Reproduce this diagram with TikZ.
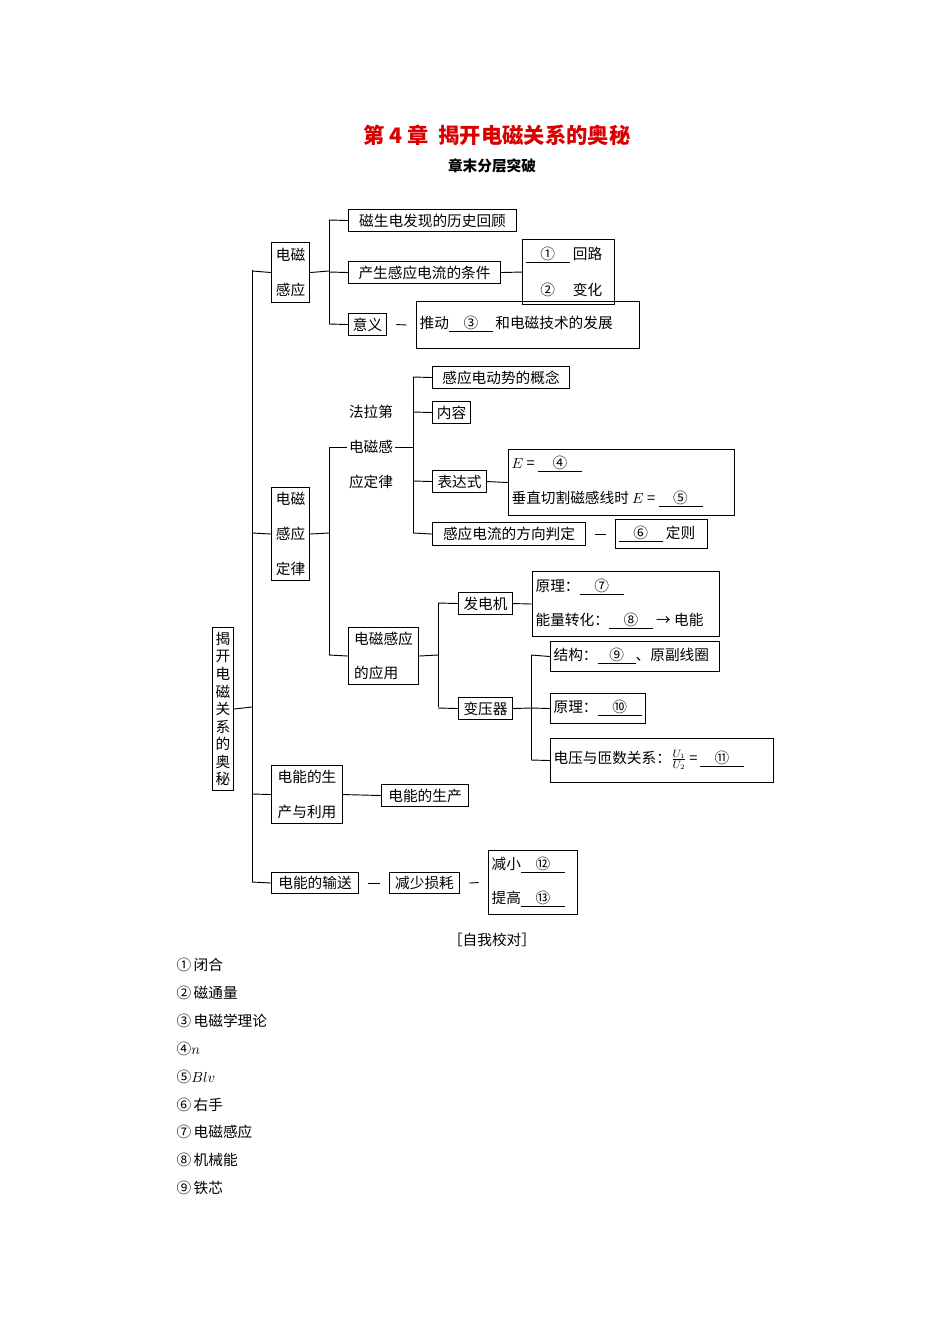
\documentclass[tikz,border=0pt]{standalone}
\usepackage{fontspec}
\setmainfont{Noto Sans CJK SC}
\begin{document}
\begin{tikzpicture}[x=0.75pt,y=-0.75pt,
  box/.style={draw,line width=0.8pt,inner sep=0pt,anchor=north west},
  txt/.style={inner sep=1pt,font=\fontsize{11}{13}\selectfont},
  lt/.style={txt,anchor=west},
  ln/.style={line width=0.7pt}]
\useasboundingbox[fill=white] (0,0) rectangle (950,1344);
\newcommand{\bx}[5]{\node[box,minimum width={(#4-#2)*0.75pt},minimum height={(#5-#3)*0.75pt}] (#1) at (#2,#3) {};}
\newcommand{\bl}[1]{\underline{\makebox[3em]{#1}}}
% titles
\node[font=\fontsize{16}{18}\selectfont\bfseries,text=red!85!black] (t1) at (497,135) {第 4 章\ \ 揭开电磁关系的奥秘};
\node[font=\fontsize{11}{13}\selectfont\bfseries] (t2) at (492,166) {章末分层突破};
% root
\bx{root}{212}{627}{233}{790}
\node[inner sep=0pt,align=center,font=\fontsize{11}{13.2}\selectfont] at (root.center) {揭\\开\\电\\磁\\关\\系\\的\\奥\\秘};
\coordinate (sp) at (252,707);
\draw[ln] (root.east) -- (sp);
\draw[ln] (252,270) -- (252,882);
% section 1
\bx{a}{271}{242}{309}{302}
\node[txt,align=center,font=\fontsize{11}{26}\selectfont] at (a.center) {电磁\\感应};
\draw[ln] (252,271) -- (a.west);
\draw[ln] (a.east) -- (329,271);
\draw[ln] (329,220) -- (329,324);
\bx{a1}{348}{209}{516}{231}\node[txt] at (a1.center) {磁生电发现的历史回顾};
\bx{a2}{348}{261}{500}{283}\node[txt] at (a2.center) {产生感应电流的条件};
\bx{a3}{348}{313}{386}{335}\node[txt] at (a3.center) {意义};
\draw[ln] (329,220) -- (a1.west); \draw[ln] (329,272) -- (a2.west); \draw[ln] (329,324) -- (a3.west);
\bx{a2b}{522}{239}{614}{304}
\node[lt] at (524,255) {\bl{①}\ 回路};
\node[lt] at (524,290) {\makebox[3em]{②}\ 变化};
\draw[ln] (a2.east) -- (a2b.west);
\bx{a3b}{416}{301}{639}{348}
\node[lt] at (418,324) {推动\bl{③}\,和电磁技术的发展};
\draw[ln] ([xshift=7]a3.east) -- ([xshift=-7]a3b.west);
% section 2
\bx{b}{271}{487}{309}{580}
\node[txt,align=center,font=\fontsize{11}{26}\selectfont] at (b.center) {电磁\\感应\\定律};
\draw[ln] (252,533) -- (b.west);
\draw[ln] (b.east) -- (329,533);
\draw[ln] (329,447) -- (329,655);
\node[txt] (fl) at (371,412) {法拉第};
\node[txt] (fm) at (371,447) {电磁感};
\node[txt] (fr) at (371,482) {应定律};
\draw[ln] (329,447) -- (fm.west);
\draw[ln] (fm.east) -- (413,447);
\draw[ln] (413,377) -- (413,533);
\bx{c1}{432}{366}{569}{388}\node[txt] at (c1.center) {感应电动势的概念};
\bx{c2}{432}{401}{470}{423}\node[txt] at (c2.center) {内容};
\bx{c3}{432}{470}{486}{492}\node[txt] at (c3.center) {表达式};
\bx{c4}{432}{522}{585}{545}\node[txt] at (c4.center) {感应电流的方向判定};
\draw[ln] (413,377) -- (c1.west); \draw[ln] (413,412) -- (c2.west);
\draw[ln] (413,481) -- (c3.west); \draw[ln] (413,533) -- (c4.west);
\bx{c3b}{508}{449}{734}{515}
\node[lt] at (510,464) {$E$ = \bl{④}};
\node[lt] at (510,499) {垂直切割磁感线时 $E$ = \bl{⑤}};
\draw[ln] (c3.east) -- (c3b.west);
\bx{c4b}{615}{519}{707}{548}
\node[lt] at (617,534) {\bl{⑥}\ 定则};
\draw[ln] ([xshift=7]c4.east) -- ([xshift=-7]c4b.west);
\bx{d}{348}{627}{418}{684}
\node[txt,align=left,font=\fontsize{11}{26}\selectfont] at (d.center) {电磁感应\\的应用};
\draw[ln] (329,655) -- (d.west);
\draw[ln] (d.east) -- (438,655);
\draw[ln] (438,603) -- (438,707);
\bx{e1}{458}{592}{512}{614}\node[txt] at (e1.center) {发电机};
\bx{e2}{458}{697}{512}{719}\node[txt] at (e2.center) {变压器};
\draw[ln] (438,603) -- (e1.west); \draw[ln] (438,708) -- (e2.west);
\bx{e1b}{532}{571}{719}{636}
\node[lt] at (534,587) {原理：\bl{⑦}};
\node[lt] at (534,621) {能量转化：\bl{⑧}\ → 电能};
\draw[ln] (e1.east) -- (e1b.west);
\draw[ln] (e2.east) -- (531,708);
\draw[ln] (531,655) -- (531,760);
\bx{f1}{550}{641}{719}{671}\node[lt] at (552,656) {结构：\underline{\makebox[2.6em]{⑨}}、原副线圈};
\bx{f2}{550}{693}{645}{723}\node[lt] at (552,708) {原理：\bl{⑩}};
\bx{f3}{550}{738}{773}{782}\node[lt] at (552,760) {电压与匝数关系：$\frac{U_1}{U_2}$\,=\,\bl{⑪}};
\draw[ln] (531,655) -- (f1.west); \draw[ln] (531,708) -- (f2.west); \draw[ln] (531,760) -- (f3.west);
% section 3
\bx{g}{271}{765}{342}{823}
\node[txt,align=left,font=\fontsize{11}{26}\selectfont] at (g.center) {电能的生\\产与利用};
\draw[ln] (252,794) -- (g.west);
\bx{g1}{381}{784}{468}{806}\node[txt] at (g1.center) {电能的生产};
\draw[ln] (g.east) -- (g1.west);
% section 4
\bx{h}{271}{872}{358}{893}\node[txt] at (h.center) {电能的输送};
\draw[ln] (252,882) -- (h.west);
\bx{h1}{389}{872}{459}{893}\node[txt] at (h1.center) {减少损耗};
\draw[ln] ([xshift=7]h.east) -- ([xshift=-7]h1.west);
\bx{h2}{488}{850}{577}{914}
\node[lt] at (490,865) {减小\bl{⑫}};
\node[lt] at (490,899) {提高\bl{⑬}};
\draw[ln] ([xshift=7]h1.east) -- ([xshift=-7]h2.west);
% answers
\node[txt] (zw) at (492,940) {［自我校对］};
\foreach \t [count=\i] in {①\,闭合,②\,磁通量,③\,电磁学理论,④$n$,⑤$Blv$,⑥\,右手,⑦\,电磁感应,⑧\,机械能,⑨\,铁芯}
  \node[lt] (ans\i) at (175,{965+27.9*(\i-1)}) {\t};
\end{tikzpicture}
\end{document}
